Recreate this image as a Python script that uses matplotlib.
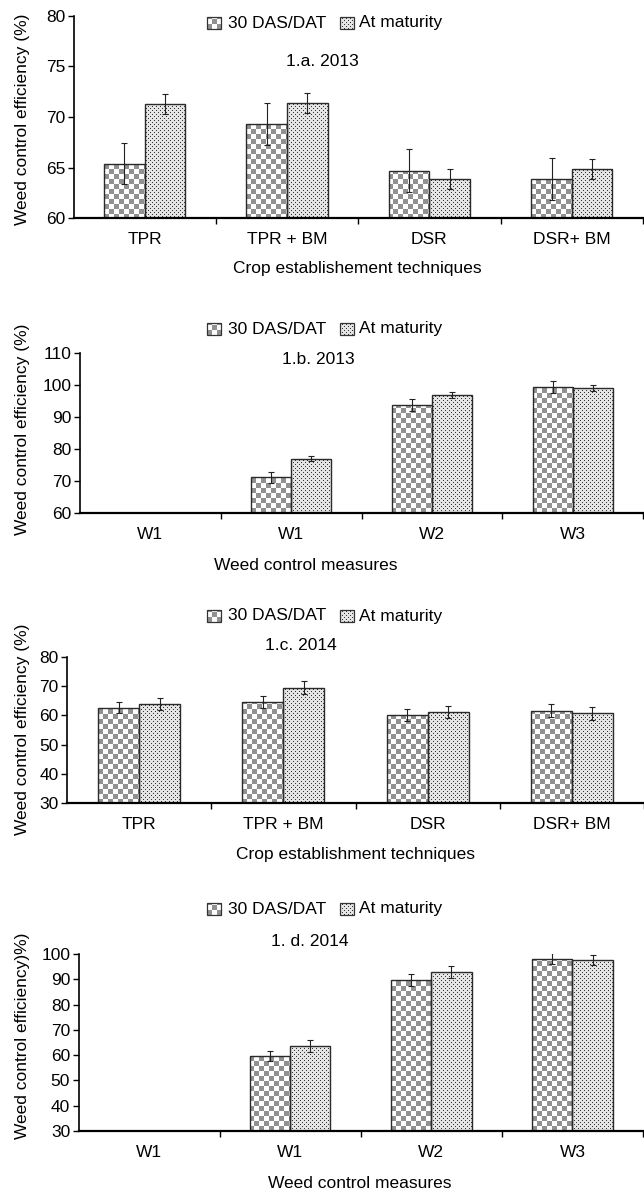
import numpy as np
import matplotlib
matplotlib.use('Agg')
import matplotlib.pyplot as plt
from matplotlib.patches import Rectangle
from matplotlib import font_manager

# values (weed control efficiency, %)
cats_cet = ['TPR', 'TPR + BM', 'DSR', 'DSR+ BM']
cats_wcm = ['W1', 'W1', 'W2', 'W3']

das_a = [65.4, 69.3, 64.7, 63.9]
das_a_err = [2.05, 2.05, 2.1, 2.1]
mat_a = [71.3, 71.4, 63.9, 64.9]
mat_a_err = [1.0, 1.0, 1.0, 1.0]

das_b = [0, 71.1, 93.8, 99.4]
das_b_err = [0, 1.8, 1.9, 2.0]
mat_b = [0, 76.9, 97.0, 99.0]
mat_b_err = [0, 0.8, 0.95, 1.0]

das_c = [62.7, 64.6, 60.1, 61.6]
das_c_err = [1.95, 2.1, 2.15, 2.2]
mat_c = [63.9, 69.5, 61.1, 60.7]
mat_c_err = [2.2, 2.25, 2.15, 2.25]

das_d = [0, 59.6, 89.7, 98.2]
das_d_err = [0, 2.1, 2.3, 2.05]
mat_d = [0, 63.7, 92.8, 97.6]
mat_d_err = [0, 2.3, 2.45, 2.1]

W, H = 644, 1196
names = set(f.name for f in font_manager.fontManager.ttflist)
if 'Liberation Sans Narrow' in names:
	plt.rcParams['font.family'] = ['Liberation Sans Narrow', 'DejaVu Sans']
	fs = 15
else:
	plt.rcParams['font.family'] = ['Liberation Sans', 'DejaVu Sans']
	fs = 12.5
plt.rcParams['font.size'] = fs
fig = plt.figure(figsize=(W / 100, H / 100), dpi=100)

bw = 0.285


def checker(h, w):
	yy, xx = np.mgrid[0:h, 0:w]
	v = np.where(((yy // 5) + (xx // 5)) % 2 == 0, 0.57, 1.0)
	return np.dstack([v, v, v])


def dots(h, w):
	yy, xx = np.mgrid[0:h, 0:w]
	dark = ((yy % 4 == 0) & (xx % 4 == 0)) | ((yy % 4 == 2) & (xx % 4 == 2))
	v = np.where(dark, 0.2, 0.9)
	return np.dstack([v, v, v])


def fill(patch, maker):
	bb = patch.get_window_extent()
	if bb.height < 1:
		return
	x0, y0 = int(np.floor(bb.x0)), int(np.floor(bb.y0))
	w = int(np.ceil(bb.x1)) - x0 + 1
	h = int(np.ceil(bb.y1)) - y0 + 1
	im = fig.figimage(maker(h, w), xo=x0, yo=y0, origin='lower', zorder=-1)
	im.set_clip_path(patch)


def legend(ly):
	for sx, tx, lab, maker in [(207, 228, '30 DAS/DAT', checker), (340, 359, 'At maturity', dots)]:
		r = Rectangle((sx / W, 1 - (ly + 6) / H), 14 / W, 12 / H, transform=fig.transFigure,
		              facecolor='none', edgecolor='#333333', lw=0.9)
		fig.add_artist(r)
		fill(r, maker)
		fig.text(tx / W, 1 - ly / H, lab, ha='left', va='center')


def panel(left, right, top, bottom, cats, das, das_err, mat, mat_err, ylim, yticks,
          ly, title, tpos, xlab, xpos, ylab, ypos):
	ax = fig.add_axes([left / W, 1 - bottom / H, (right - left) / W, (bottom - top) / H])
	ax.set_facecolor('none')
	ax.set_xlim(-0.5, 3.5)
	ax.set_ylim(ylim)
	x = np.arange(len(cats))
	ymin = ylim[0]
	b1 = ax.bar(x - bw / 2, np.maximum(np.array(das) - ymin, 0), bw, bottom=ymin,
	            facecolor='none', edgecolor='#2a2a2a', lw=1.0, zorder=2)
	b2 = ax.bar(x + bw / 2, np.maximum(np.array(mat) - ymin, 0), bw, bottom=ymin,
	            facecolor='none', edgecolor='#2a2a2a', lw=1.0, zorder=2)
	ax.errorbar(x - bw / 2, das, yerr=das_err, fmt='none', ecolor='#222222',
	            elinewidth=0.8, capsize=2.5, capthick=0.8, zorder=3)
	ax.errorbar(x + bw / 2, mat, yerr=mat_err, fmt='none', ecolor='#222222',
	            elinewidth=0.8, capsize=2.5, capthick=0.8, zorder=3)
	for p in b1:
		fill(p, checker)
	for p in b2:
		fill(p, dots)

	ax.spines['top'].set_visible(False)
	ax.spines['right'].set_visible(False)
	ax.spines['left'].set_linewidth(1.2)
	ax.spines['bottom'].set_linewidth(1.6)
	ax.set_yticks(yticks)
	ax.tick_params(axis='y', direction='out', length=4, width=1, pad=2, labelsize=fs)
	ax.set_xticks(x, cats)
	ax.set_xticks([0.5, 1.5, 2.5, 3.5], minor=True)
	ax.tick_params(axis='x', which='major', length=0, pad=10, labelsize=fs)
	ax.tick_params(axis='x', which='minor', length=4, width=1)

	legend(ly)
	fig.text(tpos[0] / W, 1 - tpos[1] / H, title, ha='center', va='center')
	fig.text(xpos[0] / W, 1 - xpos[1] / H, xlab, ha='center', va='center')
	fig.text(ypos[0] / W, 1 - ypos[1] / H, ylab, ha='center', va='center', rotation=90)
	return ax


panel(73.5, 643, 15.7, 218.3, cats_cet, das_a, das_a_err, mat_a, mat_a_err,
      (60, 80), [60, 65, 70, 75, 80], 23, '1.a. 2013', (322, 61),
      'Crop establishement techniques', (357, 268), 'Weed control efficiency (%)', (23, 119))
panel(80, 643, 353, 513, cats_wcm, das_b, das_b_err, mat_b, mat_b_err,
      (60, 110), [60, 70, 80, 90, 100, 110], 329, '1.b. 2013', (318, 360),
      'Weed control measures', (306, 565), 'Weed control efficiency (%)', (23, 429))
panel(67, 644, 657, 803, cats_cet, das_c, das_c_err, mat_c, mat_c_err,
      (30, 80), [30, 40, 50, 60, 70, 80], 616, '1.c. 2014', (301, 645),
      'Crop establishment techniques', (355, 855), 'Weed control efficiency (%)', (23, 729))
panel(78.5, 643, 954, 1131, cats_wcm, das_d, das_d_err, mat_d, mat_d_err,
      (30, 100), [30, 40, 50, 60, 70, 80, 90, 100], 909, '1. d. 2014', (310, 941),
      'Weed control measures', (360, 1183), 'Weed control efficiency)%)', (23, 1036))

fig.savefig('out.png', dpi=100)
plt.close()
